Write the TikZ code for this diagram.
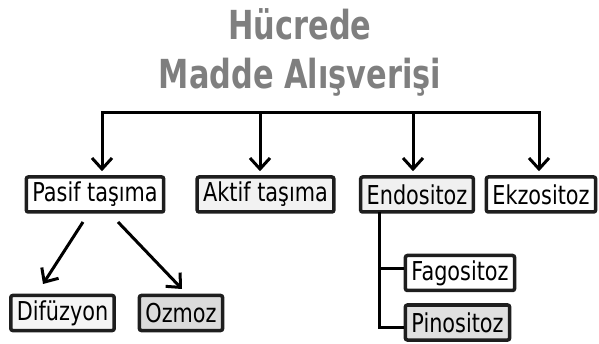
\documentclass[tikz,border=0pt]{standalone}
\usepackage{fontspec}
\setmainfont{DejaVu Sans}[FakeStretch=0.8]
\newfontfamily\titlefont{DejaVu Sans}[FakeStretch=0.76]
\usetikzlibrary{arrows.meta}
\definecolor{titlegray}{HTML}{7F7F7F}
\definecolor{boxline}{HTML}{1E1E1E}
\tikzset{
  box/.style={draw=boxline, line width=3.5pt, rounded corners=2pt, inner xsep=6pt, inner ysep=0pt,
    minimum height=35pt, font=\fontsize{26}{30}\selectfont, text=black},
  ttl/.style={anchor=base, text=titlegray, font=\titlefont\bfseries\fontsize{40}{46}\selectfont},
  conn/.style={line width=3pt, black},
  arr/.style={conn, -{Straight Barb[length=11pt,width=20pt,line width=3pt]}, shorten >=4pt},
}
\begin{document}
\begin{tikzpicture}[x=1pt,y=-1pt]
\useasboundingbox (0,0) rectangle (599,344);
\node[ttl] (t1) at (300,40) {Hücrede};
\node[ttl] (t2) at (300,89) {Madde Alışverişi};

\node[box, fill=white] (pasif) at (95,194.5) {Pasif taşıma};
\node[box, fill=black!5] (aktif) at (265.5,194.5) {Aktif taşıma};
\node[box, fill=black!6] (endo) at (417,194.5) {Endositoz};
\node[box, fill=white] (ekzo) at (541,194.5) {Ekzositoz};
\node[box, fill=black!4] (dif) at (62.5,313) {Difüzyon};
\node[box, fill=black!14] (ozm) at (181,313) {Ozmoz};
\node[box, fill=white] (fago) at (460,273) {Fagositoz};
\node[box, fill=black!12] (pino) at (457.5,322.5) {Pinositoz};

\coordinate (b1) at (102,113);
\coordinate (b2) at (260,113);
\coordinate (b3) at (413,113);
\coordinate (b4) at (539,113);
\draw[conn, line cap=rect] (b1) -- (b4);
\draw[arr] (b1) -- (b1 |- pasif.north);
\draw[arr] (b2) -- (b2 |- aktif.north);
\draw[arr] (b3) -- (b3 |- endo.north);
\draw[arr] (b4) -- (b4 |- ekzo.north);

\coordinate (p1) at (83,222);
\coordinate (p2) at (118,222);
\coordinate (d1) at (43,284);
\coordinate (o1) at (182,289);
\draw[arr, shorten >=0pt] (p1) -- (d1);
\draw[arr, shorten >=0pt] (p2) -- (o1);

\coordinate (s0) at (379,212);
\coordinate (fg) at ([yshift=4pt]fago.west);
\coordinate (pg) at ([yshift=-5pt]pino.west);
\draw[conn] (s0) |- (pg);
\draw[conn] (s0 |- fg) -- (fg);
\end{tikzpicture}
\end{document}
